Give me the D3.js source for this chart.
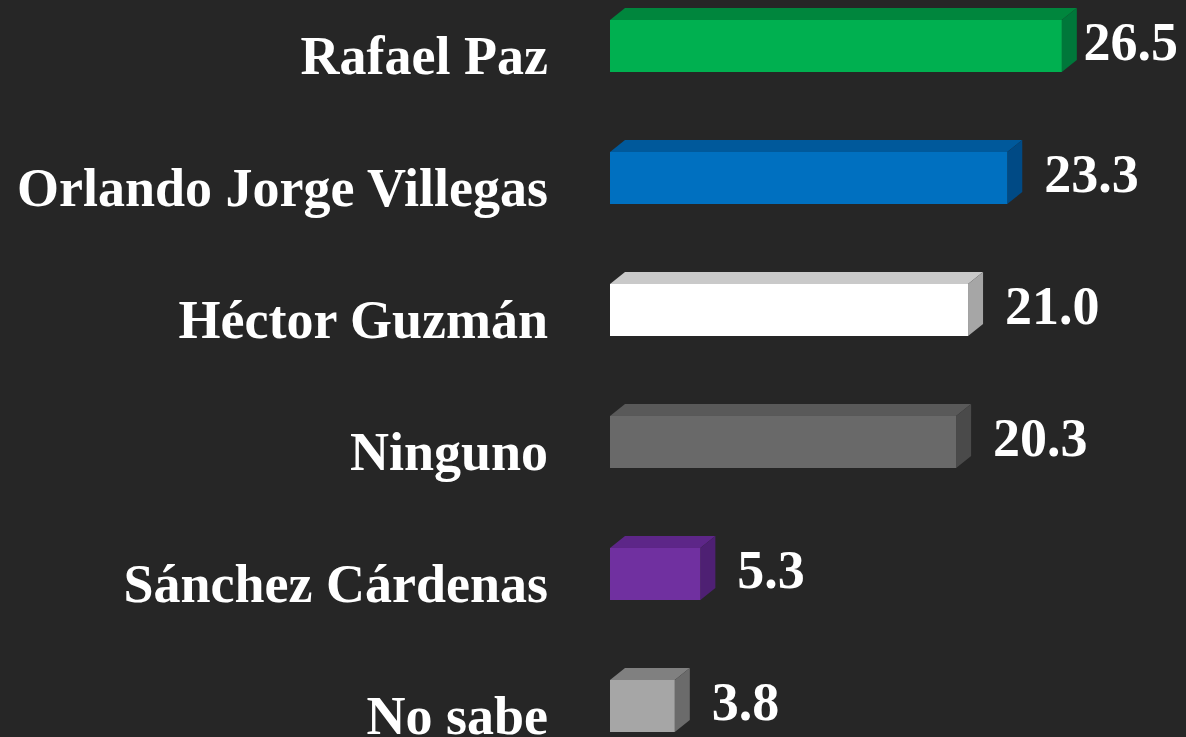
<!DOCTYPE html>
<html>
<head>
<meta charset="utf-8">
<script src="https://cdn.jsdelivr.net/npm/d3@7"></script>
<style>
  html, body { margin: 0; padding: 0; background: #262626; overflow: hidden; }
</style>
</head>
<body>
<script>
// Data
var categories = ["Rafael Paz", "Orlando Jorge Villegas", "Héctor Guzmán", "Ninguno", "Sánchez Cárdenas", "No sabe"];
var values = [26.5, 23.3, 21.0, 20.3, 5.3, 3.8];
var frontColors = ["#00b050", "#0070c0", "#ffffff", "#696969", "#7030a0", "#a6a6a6"];
var topColors = ["#00863d", "#00599b", "#c9c9c9", "#595959", "#5d2688", "#808080"];
var sideColors = ["#00773a", "#004a85", "#a6a6a6", "#4a4a4a", "#4e2073", "#6b6b6b"];

function drawChart(){

  var wx = 1186,
      hy = 737;

  var svg = d3.select("body")
      .append("svg")
      .attr("width", wx)
      .attr("height", hy);

  svg.append("rect")
      .attr("width", wx)
      .attr("height", hy)
      .attr("fill", "#262626");

  // depth of the 3d faces
  var dx = 15,
      dy = 12;

  var x = d3.scaleLinear()
      .domain([0, 30])
      .range([610, 610 + 30 * 17.05]);

  var y = d3.scaleBand()
      .domain(categories)
      .range([20, 732])
      .paddingInner(0.606)
      .paddingOuter(0);

  var rows = categories.map(function(c, i){
    return { name: c, value: values[i], front: frontColors[i], top: topColors[i], side: sideColors[i] };
  });

  var g = svg.selectAll("g.bar")
      .data(rows)
      .enter()
      .append("g")
      .attr("class", "bar");

  // top face
  g.append("path")
      .attr("d", function(d){
        var x0 = x(0), x1 = x(d.value), y0 = y(d.name);
        return "M" + x0 + "," + y0 + "L" + (x0 + dx) + "," + (y0 - dy) +
               "L" + (x1 + dx) + "," + (y0 - dy) + "L" + x1 + "," + y0 + "Z";
      })
      .attr("fill", function(d){ return d.top; });

  // side face
  g.append("path")
      .attr("d", function(d){
        var x1 = x(d.value), y0 = y(d.name), y1 = y0 + y.bandwidth();
        return "M" + x1 + "," + y0 + "L" + (x1 + dx) + "," + (y0 - dy) +
               "L" + (x1 + dx) + "," + (y1 - dy) + "L" + x1 + "," + y1 + "Z";
      })
      .attr("fill", function(d){ return d.side; });

  // front face
  g.append("rect")
      .attr("x", x(0))
      .attr("y", function(d){ return y(d.name); })
      .attr("width", function(d){ return x(d.value) - x(0); })
      .attr("height", y.bandwidth())
      .attr("fill", function(d){ return d.front; });

  // category labels
  svg.selectAll("text.cat")
      .data(rows)
      .enter()
      .append("text")
      .attr("class", "cat")
      .attr("x", 548)
      .attr("y", function(d){ return y(d.name) + y.bandwidth() / 2 + 28; })
      .attr("text-anchor", "end")
      .attr("font-family", "'Liberation Serif', 'DejaVu Serif', serif")
      .attr("font-weight", "bold")
      .attr("font-size", 54)
      .attr("fill", "#ffffff")
      .text(function(d){ return d.name; });

  // value labels, kept inside the canvas
  svg.selectAll("text.val")
      .data(rows)
      .enter()
      .append("text")
      .attr("class", "val")
      .attr("y", function(d){ return y(d.name) + y.bandwidth() / 2 + 14; })
      .attr("font-family", "'Liberation Serif', 'DejaVu Serif', serif")
      .attr("font-weight", "bold")
      .attr("font-size", 54)
      .attr("fill", "#ffffff")
      .text(function(d){ return d3.format(".1f")(d.value); })
      .attr("x", function(d){
        var w = this.getComputedTextLength();
        return Math.min(x(d.value) + dx + 22, wx - w - 8);
      });
}
drawChart();
</script>
</body>
</html>
